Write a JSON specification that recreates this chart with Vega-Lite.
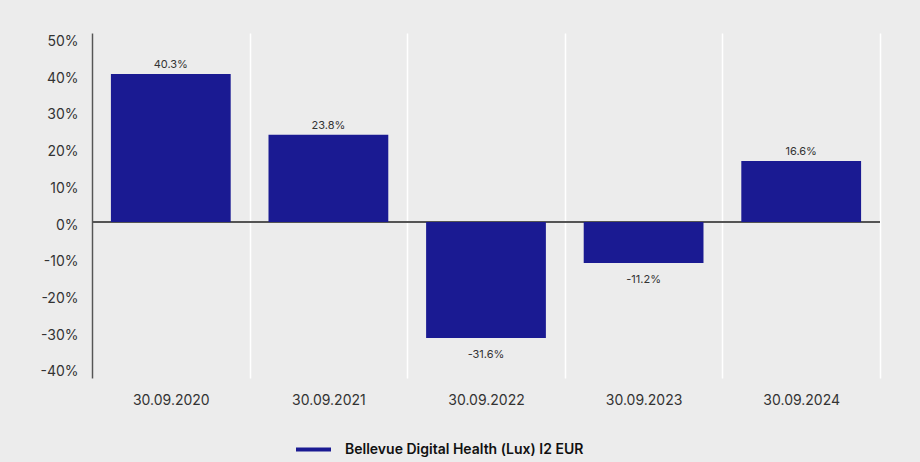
{
  "$schema": "https://vega.github.io/schema/vega-lite/v6.json",
  "width": 788,
  "height": 345,
  "autosize": {"type": "none"},
  "padding": {"left": 92, "top": 33, "right": 40, "bottom": 84},
  "background": "#ececec",
  "config": {
    "view": {"stroke": null},
    "font": "Inter",
    "axis": {"labelFont": "Inter", "labelColor": "#333333", "labelFontSize": 14}
  },
  "data": {
    "values": [
      {"date": "30.09.2020", "v": 0.403, "series": "Bellevue Digital Health (Lux) I2 EUR"},
      {"date": "30.09.2021", "v": 0.238, "series": "Bellevue Digital Health (Lux) I2 EUR"},
      {"date": "30.09.2022", "v": -0.316, "series": "Bellevue Digital Health (Lux) I2 EUR"},
      {"date": "30.09.2023", "v": -0.112, "series": "Bellevue Digital Health (Lux) I2 EUR"},
      {"date": "30.09.2024", "v": 0.166, "series": "Bellevue Digital Health (Lux) I2 EUR"}
    ]
  },
  "encoding": {
    "x": {
      "field": "date", "type": "nominal", "title": null,
      "scale": {"paddingInner": 0, "paddingOuter": 0},
      "axis": {"labelAngle": 0, "domain": false, "ticks": false, "grid": true, "tickBand": "extent", "gridColor": "#ffffff", "gridWidth": 1.5, "gridOpacity": 1, "labelPadding": 15}
    },
    "y": {
      "field": "v", "type": "quantitative", "title": null,
      "scale": {"domain": [-0.425, 0.515], "nice": false, "zero": false},
      "axis": {"values": [-0.4, -0.3, -0.2, -0.1, 0, 0.1, 0.2, 0.3, 0.4, 0.5], "labelExpr": "replace(format(datum.value, '.0%'), '\u2212', '-')", "grid": false, "ticks": false, "domainColor": "#555555", "domainWidth": 1.5, "labelPadding": 14, "labelOffset": 3}
    }
  },
  "layer": [
    {
      "mark": {"type": "rule", "color": "#555555", "strokeWidth": 1.5},
      "encoding": {"y": {"datum": 0}, "x": {"value": 0}, "x2": {"value": 788}}
    },
    {
      "mark": {"type": "bar", "width": {"band": 0.76}},
      "encoding": {
        "y2": {"datum": 0},
        "color": {
          "field": "series", "type": "nominal",
          "scale": {"range": ["#1a1a92"]},
          "legend": {
            "title": null, "orient": "none", "legendX": 202, "legendY": 397,
            "symbolType": "stroke", "symbolSize": 1225, "symbolStrokeWidth": 4, "symbolStrokeColor": "#1a1a92",
            "labelFont": "Inter", "labelFontSize": 14, "labelFontWeight": 600, "labelColor": "#111111", "labelOffset": 12, "labelLimit": 0
          }
        }
      }
    },
    {
      "transform": [{"filter": "datum.v >= 0"}],
      "mark": {"type": "text", "baseline": "bottom", "dy": -4, "fontSize": 11, "color": "#333333", "text": {"expr": "replace(format(datum.v, '.1%'), '\u2212', '-')"}},
      "encoding": {}
    },
    {
      "transform": [{"filter": "datum.v < 0"}],
      "mark": {"type": "text", "baseline": "top", "dy": 11, "fontSize": 11, "color": "#333333", "text": {"expr": "replace(format(datum.v, '.1%'), '\u2212', '-')"}},
      "encoding": {}
    }
  ]
}
